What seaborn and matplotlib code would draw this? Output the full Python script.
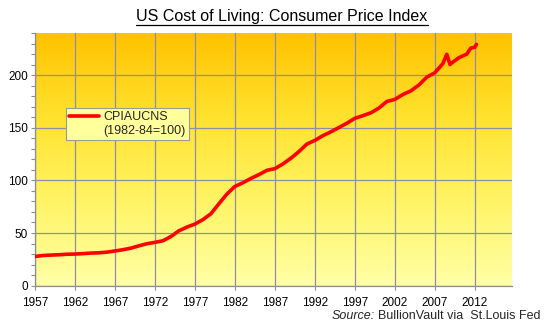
import numpy as np
import pandas as pd
import matplotlib
matplotlib.use("Agg")
import matplotlib.pyplot as plt
from matplotlib.colors import LinearSegmentedColormap
from matplotlib.ticker import MultipleLocator
from matplotlib.lines import Line2D
import seaborn as sns

# CPI for all urban consumers, not seasonally adjusted (1982-84=100)
years = [1957, 1958, 1959, 1960, 1961, 1962, 1963, 1964, 1965, 1966,
         1967, 1968, 1969, 1970, 1971, 1972, 1973, 1974, 1975, 1976,
         1977, 1978, 1979, 1980, 1981, 1982, 1983, 1984, 1985, 1986,
         1987, 1988, 1989, 1990, 1991, 1992, 1993, 1994, 1995, 1996,
         1997, 1998, 1999, 2000, 2001, 2002, 2003, 2004, 2005, 2006,
         2007, 2008, 2008.5, 2008.9, 2009, 2010, 2011, 2011.5, 2012, 2012.2]
cpi = [27.7, 28.6, 29.0, 29.3, 29.8, 30.0, 30.4, 30.9, 31.2, 31.8,
       32.9, 34.1, 35.6, 37.8, 39.8, 41.1, 42.6, 46.6, 52.1, 55.6,
       58.5, 62.7, 68.3, 77.8, 87.0, 94.3, 97.8, 101.9, 105.5, 109.6,
       111.2, 115.7, 121.1, 127.4, 134.6, 138.1, 142.6, 146.2, 150.3, 154.4,
       159.1, 161.6, 164.3, 168.8, 175.1, 177.1, 181.7, 185.2, 190.7, 198.3,
       202.4, 211.1, 220.0, 210.2, 211.1, 216.7, 220.2, 225.9, 226.7, 229.4]
x_ticks = [1957, 1962, 1967, 1972, 1977, 1982, 1987, 1992, 1997, 2002, 2007, 2012]
y_ticks = [0, 50, 100, 150, 200]

df = pd.DataFrame({"year": years, "CPIAUCNS": cpi})

sns.set_theme(style="white")
plt.rcParams["font.family"] = ["Liberation Sans", "DejaVu Sans"]

W, H = 546, 326
fig = plt.figure(figsize=(W / 100, H / 100), dpi=100)
ax = fig.add_axes([0.064, 0.124, 0.873, 0.774])

x0, x1 = 1957, 2016.6
y0, y1 = 0, 240

# vertical gradient background: orange-yellow at top to pale yellow at bottom
grad = LinearSegmentedColormap.from_list(
    "bg", ["#ffffa6", "#fff466", "#ffe22e", "#ffc200"])
ax.imshow(np.linspace(0, 1, 256).reshape(-1, 1), cmap=grad, origin="lower",
          extent=[x0, x1, y0, y1], aspect="auto", zorder=0)

sns.lineplot(data=df, x="year", y="CPIAUCNS", ax=ax, color="#ff0000",
             linewidth=2.6, zorder=3, legend=False)

ax.set_xlim(x0, x1)
ax.set_ylim(y0, y1)
ax.set_xticks(x_ticks)
ax.set_xticklabels([str(v) for v in x_ticks])
ax.set_yticks(y_ticks)
ax.yaxis.set_minor_locator(MultipleLocator(10))
ax.set_xlabel("")
ax.set_ylabel("")

ax.grid(True, which="major", color="#8e8ea8", linewidth=0.9)
for ln in ax.get_xgridlines() + ax.get_ygridlines():
    ln.set_zorder(1)

for side in ["top", "right"]:
    ax.spines[side].set_visible(False)
for side in ["left", "bottom"]:
    ax.spines[side].set_color("#8e8e8e")
    ax.spines[side].set_linewidth(0.9)

ax.tick_params(axis="both", which="major", labelsize=8.5, colors="#8e8e8e",
               labelcolor="black", length=3, width=0.8, direction="out")
ax.tick_params(axis="y", which="major", left=True, pad=2)
ax.tick_params(axis="x", which="major", bottom=True, pad=5)
ax.tick_params(axis="y", which="minor", left=True, length=3, width=0.8,
               color="#8e8e8e", direction="out")

# legend: handle beside the series name, units on the line below
handles = [Line2D([], [], color="#ff0000", linewidth=2.6),
           Line2D([], [], color="none")]
labels = ["CPIAUCNS", "(1982-84=100)"]
leg = ax.legend(handles, labels, loc="upper left",
                bbox_to_anchor=(0.0645, 0.705), fontsize=9,
                frameon=True, fancybox=False, handlelength=2.4,
                handletextpad=0.3, borderpad=0.3, labelspacing=0.1,
                borderaxespad=0)
leg.get_frame().set_facecolor("#ffff9c")
leg.get_frame().set_edgecolor("#9a9a9a")
leg.get_frame().set_linewidth(0.8)
leg.get_frame().set_alpha(1)
leg.set_zorder(5)

# underlined title
title = fig.text(282 / W, 1 - 16 / H, "US Cost of Living: Consumer Price Index",
                 ha="center", va="center", fontsize=11.5, color="black")
fig.canvas.draw()
r = fig.canvas.get_renderer()
bb = title.get_window_extent(r).transformed(fig.transFigure.inverted())
fig.add_artist(Line2D([bb.x0, bb.x1], [1 - 25 / H, 1 - 25 / H],
                      color="black", linewidth=0.9))

# source line, right aligned
src = fig.text(541 / W, 1 - 316 / H, "BullionVault via  St.Louis Fed",
               ha="right", va="center", fontsize=9)
sb = src.get_window_extent(r).transformed(fig.transFigure.inverted())
fig.text(sb.x0 - 4 / W, 1 - 316 / H, "Source:", ha="right", va="center",
         fontsize=9, style="italic")

fig.savefig("out.png", dpi=100, facecolor="white")
